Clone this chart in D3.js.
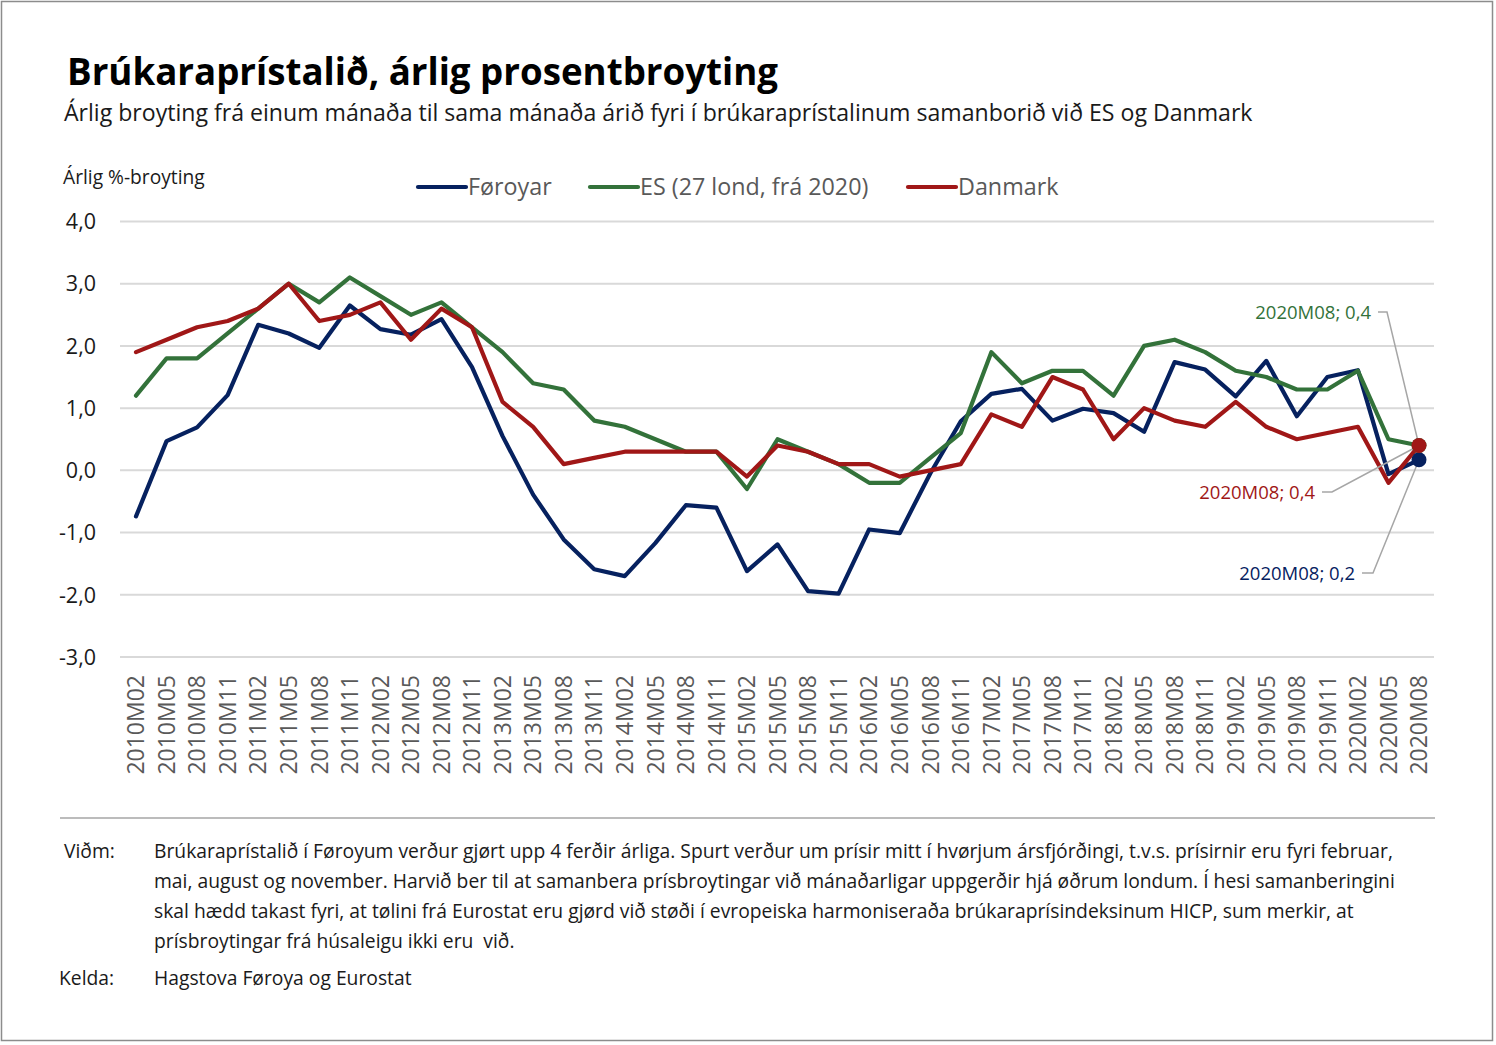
<!DOCTYPE html>
<html>
<head>
<meta charset="utf-8">
<script src="https://cdn.jsdelivr.net/npm/d3@7"></script>
<style>
  body { margin: 0; background: #fff; }
  svg { font-family: "Open Sans", sans-serif; }
</style>
</head>
<body>
<div id="chart"></div>
<script>
let w = 1496;
let h = 1045;

// quarterly periods
let periods = [];
for (let y = 2010; y <= 2020; y++) {
  ["02", "05", "08", "11"].forEach(m => periods.push(y + "M" + m));
}
periods = periods.slice(0, periods.indexOf("2020M08") + 1);

let faroe = [-0.74, 0.47, 0.69, 1.21, 2.34, 2.20, 1.97, 2.65, 2.27, 2.18, 2.43, 1.66,
  0.55, -0.39, -1.11, -1.59, -1.70, -1.17, -0.56, -0.60, -1.62, -1.19, -1.94, -1.98,
  -0.95, -1.01, -0.05, 0.79, 1.23, 1.31, 0.80, 0.99, 0.92, 0.62, 1.74, 1.62,
  1.19, 1.76, 0.87, 1.50, 1.61, -0.06, 0.17];

let eu = [1.2, 1.8, 1.8, 2.2, 2.6, 3.0, 2.7, 3.1, 2.8, 2.5, 2.7, 2.3,
  1.9, 1.4, 1.3, 0.8, 0.7, 0.5, 0.3, 0.3, -0.3, 0.5, 0.3, 0.1,
  -0.2, -0.2, 0.2, 0.6, 1.9, 1.4, 1.6, 1.6, 1.2, 2.0, 2.1, 1.9,
  1.6, 1.5, 1.3, 1.3, 1.6, 0.5, 0.4];

let denmark = [1.9, 2.1, 2.3, 2.4, 2.6, 3.0, 2.4, 2.5, 2.7, 2.1, 2.6, 2.3,
  1.1, 0.7, 0.1, 0.2, 0.3, 0.3, 0.3, 0.3, -0.1, 0.4, 0.3, 0.1,
  0.1, -0.1, 0.0, 0.1, 0.9, 0.7, 1.5, 1.3, 0.5, 1.0, 0.8, 0.7,
  1.1, 0.7, 0.5, 0.6, 0.7, -0.2, 0.4];

let yTicks = [4, 3, 2, 1, 0, -1, -2, -3];

let seriesNames = ["Føroyar", "ES (27 lond, frá 2020)", "Danmark"];
let seriesColors = ["#06215f", "#33723a", "#a01717"];
let seriesValues = [faroe, eu, denmark];

let fmt = v => d3.format(".1f")(v).replace(".", ",").replace("\u2212", "-");

let svg = d3.select("#chart").append("svg")
  .attr("width", w)
  .attr("height", h);

// frame
svg.append("rect")
  .attr("x", 1.5).attr("y", 1.5)
  .attr("width", 1491).attr("height", 1039)
  .attr("fill", "white")
  .attr("stroke", "#8c8c8c")
  .attr("stroke-width", 1.5);

svg.append("text")
  .attr("x", 67).attr("y", 85)
  .attr("font-size", "36.7px")
  .attr("font-weight", "bold")
  .attr("fill", "#000")
  .text("Brúkaraprístalið, árlig prosentbroyting");

svg.append("text")
  .attr("x", 64).attr("y", 121)
  .attr("font-size", "23.1px")
  .attr("fill", "#1a1a1a")
  .text("Árlig broyting frá einum mánaða til sama mánaða árið fyri í brúkaraprístalinum samanborið við ES og Danmark");

svg.append("text")
  .attr("x", 63).attr("y", 184)
  .attr("font-size", "19.2px")
  .attr("fill", "#1a1a1a")
  .text("Árlig %-broyting");

let x = d3.scalePoint().domain(periods).range([136, 1419]);
let y = d3.scaleLinear().domain([-3, 4]).range([657, 221.5]);

// gridlines
svg.append("g")
  .selectAll("line")
  .data(yTicks)
  .join("line")
    .attr("x1", 120).attr("x2", 1434)
    .attr("y1", d => y(d)).attr("y2", d => y(d))
    .attr("stroke", "#d9d9d9")
    .attr("stroke-width", 2);

// y labels
svg.append("g")
  .selectAll("text")
  .data(yTicks)
  .join("text")
    .attr("x", 96)
    .attr("y", d => y(d))
    .attr("dy", "0.36em")
    .attr("text-anchor", "end")
    .attr("font-size", "21.5px")
    .attr("fill", "#1a1a1a")
    .text(fmt);

// x labels
svg.append("g")
  .selectAll("text")
  .data(periods)
  .join("text")
    .attr("transform", d => `translate(${x(d)},675) rotate(-90)`)
    .attr("dy", "0.36em")
    .attr("text-anchor", "end")
    .attr("font-size", "23px")
    .attr("fill", "#595959")
    .text(d => d);

// lines
let line = d3.line()
  .x((d, i) => x(periods[i]))
  .y(d => y(d));

seriesValues.forEach((vals, k) => {
  svg.append("path")
    .datum(vals)
    .attr("d", line)
    .attr("fill", "none")
    .attr("stroke", seriesColors[k])
    .attr("stroke-width", 4.2)
    .attr("stroke-linejoin", "round")
    .attr("stroke-linecap", "round");
});

// leader lines for end labels
let last = periods[periods.length - 1];
let n = periods.length - 1;
let leaders = [
  { k: 1, pts: [[1378, 312], [1387, 312]] },
  { k: 2, pts: [[1322, 492], [1332, 492]] },
  { k: 0, pts: [[1362, 573], [1373, 573]] }
];
leaders.forEach(l => {
  let p = l.pts.concat([[x(last), y(seriesValues[l.k][n])]]);
  svg.append("path")
    .attr("d", d3.line()(p))
    .attr("fill", "none")
    .attr("stroke", "#a6a6a6")
    .attr("stroke-width", 1.5);
});

// end markers
[1, 0, 2].forEach(k => {
  svg.append("circle")
    .attr("cx", x(last))
    .attr("cy", y(seriesValues[k][n]))
    .attr("r", 7.5)
    .attr("fill", seriesColors[k]);
});

// end labels
leaders.forEach(l => {
  svg.append("text")
    .attr("x", l.pts[0][0] - 7)
    .attr("y", l.pts[0][1])
    .attr("dy", "0.36em")
    .attr("text-anchor", "end")
    .attr("font-size", "18.5px")
    .attr("fill", seriesColors[l.k])
    .text(last + "; " + fmt(seriesValues[l.k][n]));
});

// legend
let legendX = [418, 590, 908];
seriesNames.forEach((name, k) => {
  let g = svg.append("g").attr("transform", `translate(${legendX[k]},187)`);
  g.append("line")
    .attr("x1", 0).attr("x2", 48)
    .attr("stroke", seriesColors[k])
    .attr("stroke-width", 4.2)
    .attr("stroke-linecap", "round");
  g.append("text")
    .attr("x", 50)
    .attr("dy", "0.36em")
    .attr("font-size", "23.3px")
    .attr("fill", "#595959")
    .text(name);
});

// separator
svg.append("line")
  .attr("x1", 60).attr("x2", 1435)
  .attr("y1", 818).attr("y2", 818)
  .attr("stroke", "#a6a6a6")
  .attr("stroke-width", 1.5);

// notes
let noteLines = [
  "Brúkaraprístalið í Føroyum verður gjørt upp 4 ferðir árliga. Spurt verður um prísir mitt í hvørjum ársfjórðingi, t.v.s. prísirnir eru fyri februar,",
  "mai, august og november. Harvið ber til at samanbera prísbroytingar við mánaðarligar uppgerðir hjá øðrum londum. Í hesi samanberingini",
  "skal hædd takast fyri, at tølini frá Eurostat eru gjørd við støði í evropeiska harmoniseraða brúkaraprísindeksinum HICP, sum merkir, at",
  "prísbroytingar frá húsaleigu ikki eru  við."
];

svg.append("text")
  .attr("x", 64).attr("y", 858)
  .attr("font-size", "19.3px")
  .attr("fill", "#1a1a1a")
  .text("Viðm:");

svg.append("g")
  .selectAll("text")
  .data(noteLines)
  .join("text")
    .attr("x", 154)
    .attr("y", (d, i) => 858 + i * 30)
    .attr("font-size", "19.3px")
    .attr("fill", "#1a1a1a")
    .style("white-space", "pre")
    .text(d => d);

svg.append("text")
  .attr("x", 59).attr("y", 985)
  .attr("font-size", "19.3px")
  .attr("fill", "#1a1a1a")
  .text("Kelda:");

svg.append("text")
  .attr("x", 154).attr("y", 985)
  .attr("font-size", "19.3px")
  .attr("fill", "#1a1a1a")
  .text("Hagstova Føroya og Eurostat");
</script>
</body>
</html>
